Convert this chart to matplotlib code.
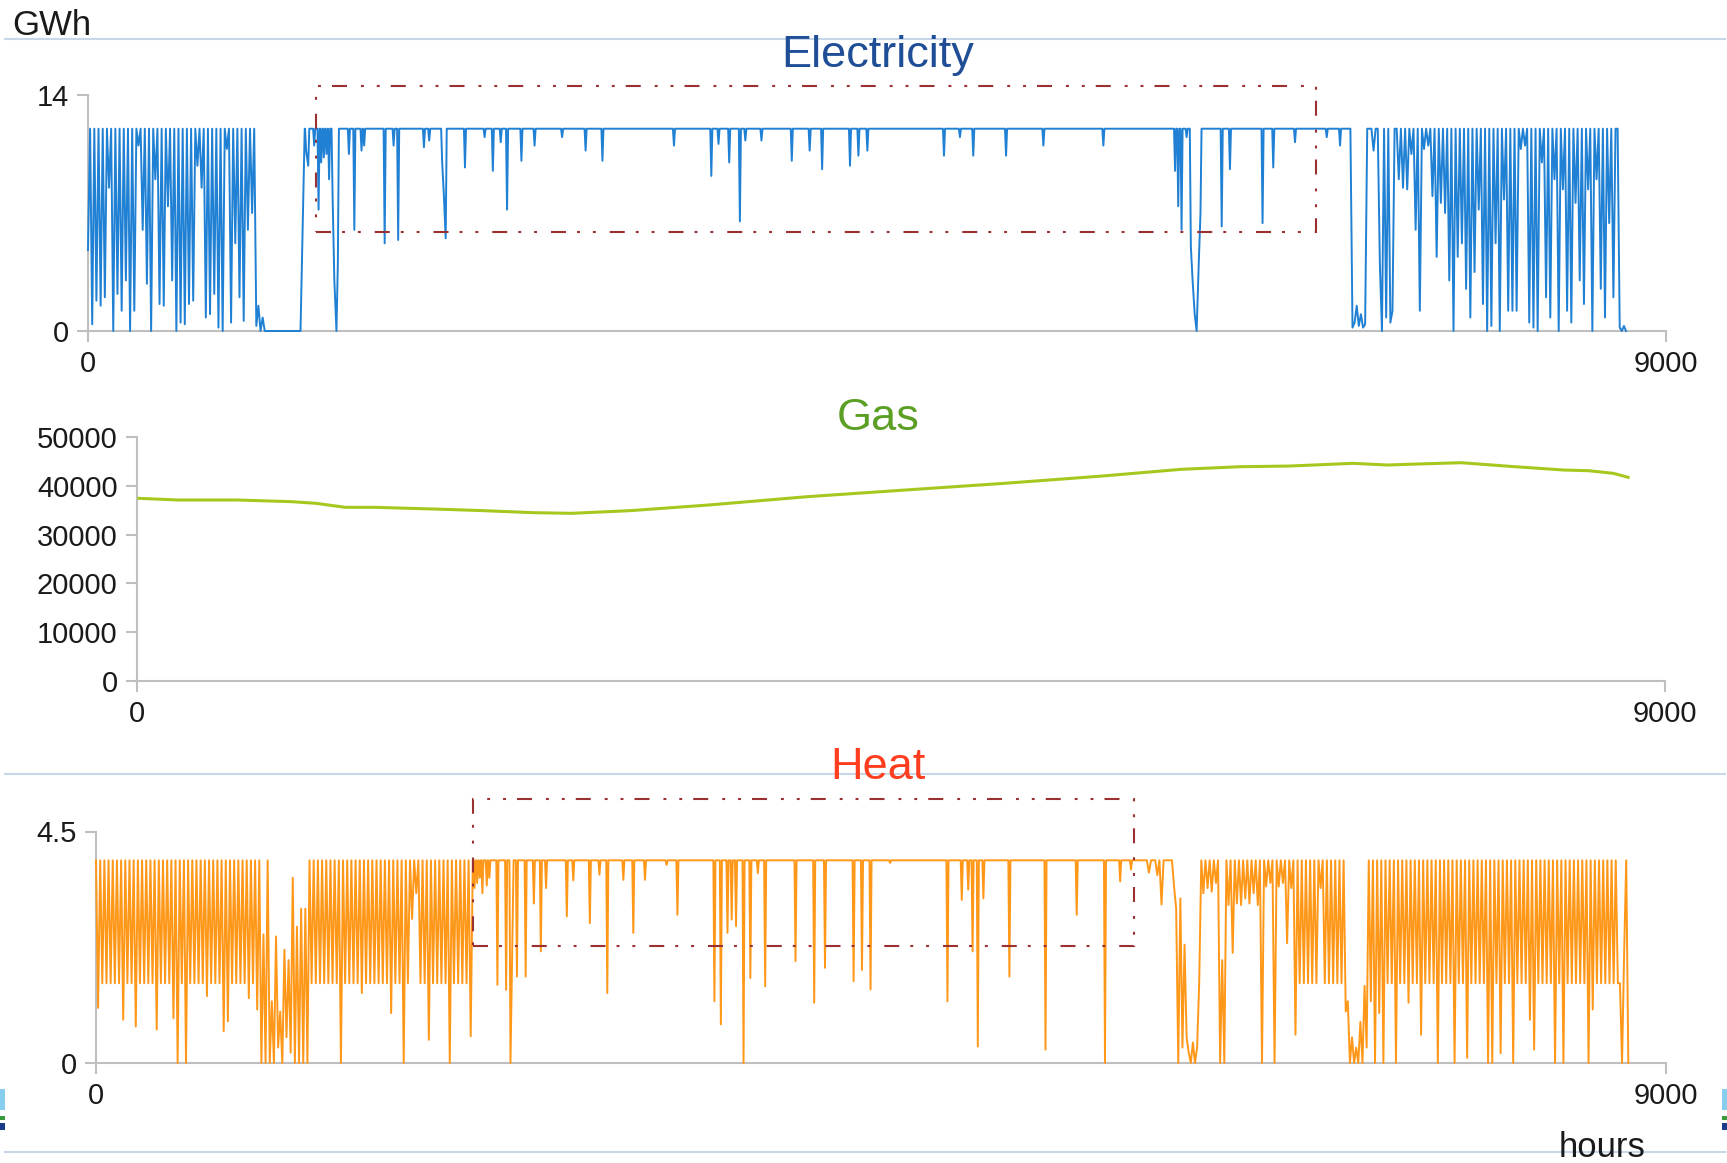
import numpy as np
import matplotlib
matplotlib.use('Agg')
import matplotlib.pyplot as plt
from matplotlib.lines import Line2D
from matplotlib.patches import Rectangle

plt.rcParams['font.family'] = ['Liberation Sans', 'DejaVu Sans']

W, H = 1727, 1163

# ---------------------------------------------------------------- data
E = 12.0             # electricity output at full load, GWh
T, B = 3.94, 1.55    # heat: full load and night-time level, GWh

# electricity, 12-hourly values from hour 0 (January cycling)
elec_start_a = 0
elec_winter_a = [
    4.8, E, 0.4, E, 1.8, E, 1.5, E, 2.0, E, 8.5, E,
    0.0, E, 2.2, E, 1.2, E, 3.0, E, 0.0, E, 1.2, E,
    11.0, E, 6.0, E, 2.8, E, 0.0, E, 9.0, E, 1.6, E,
    1.5, E, 7.4, E, 3.0, E, 0.0, E, 0.5, E, 0.4, E,
    1.6, E, 1.8, E, 9.8, E, 8.5, E, 0.8, E, 1.0, E,
    2.2, E, 0.2, E, 0.0, E, 10.8, E, 0.5, E, 5.2, E,
    2.0, E, 0.6, E, 6.0, E, 7.0, E, 0.3, 1.5, 0.0, 0.8,
    0.0, 0.0, 0.0, 0.0, 0.0, 0.0, 0.0, 0.0, 0.0, 0.0, 0.0, 0.0,
    0.0, 0.0, 0.0, 0.0, 0.0, 0.0, 6.0, E,
]

# electricity, 12-hourly values from hour 7200 (November-December cycling)
elec_start_b = 7200
elec_winter_b = [
    E, 0.2, 0.5, 1.5, 0.3, 1.0, 0.2, 0.4, E, E, E, 10.7,
    E, E, 4.0, 0.0, E, 0.8, E, 0.5, 1.2, E, E, 9.0,
    E, 8.5, E, 8.4, E, 10.5, E, 6.0, E, 1.2, E, 10.8,
    E, 11.0, E, 8.0, E, 4.4, E, 7.6, E, 7.0, E, 3.0,
    E, 0.0, E, 4.4, E, 5.2, E, 2.5, E, 0.8, E, 3.5,
    E, 7.2, E, 1.6, E, 0.0, E, 0.3, E, 5.2, E, 0.0,
    E, 7.8, E, 1.2, E, 1.2, E, 1.2, E, 10.8, E, 11.0,
    E, 0.5, E, 0.2, E, 0.0, E, 10.0, E, 2.0, E, 0.8,
    E, 9.0, E, 0.0, E, 8.4, E, 1.2, E, 0.5, E, 7.6,
    E, 3.0, E, 1.6, E, 8.4, E, 0.0, E, 9.0, E, 2.5,
    E, 0.8, E, 6.4, E, 2.0, E, E, 0.2, 0.0, 0.3, 0.0,
]

# electricity dips during the full-load season: (hour, GWh)
elec_dips = [
    (1244, 10.7), (1256, 9.8), (1290, 11.0), (1315, 7.2), (1330, 10.0),
    (1345, 10.3), (1360, 10.5), (1375, 9.0),
    (1395, 8.0), (1405, 3.0), (1417, 0.0), (1425, 4.0),
    (1488, 10.5), (1519, 6.0), (1560, 10.7), (1575, 11.0),
    (1692, 5.2), (1743, 11.0), (1769, 5.4), (1916, 10.9), (1946, 11.3),
    (2020, 10.0), (2030, 8.0), (2040, 5.5),
    (2150, 9.7), (2262, 11.5), (2309, 9.5), (2354, 11.2), (2390, 7.2),
    (2472, 10.1), (2547, 11.0), (2704, 11.5), (2838, 10.7), (2934, 10.1),
    (3342, 11.0), (3555, 9.2), (3596, 11.1), (3657, 10.0), (3718, 6.5),
    (3749, 11.3), (3841, 11.3), (4014, 10.1), (4116, 10.7), (4187, 9.6),
    (4346, 9.8), (4394, 10.4), (4445, 10.7), (4882, 10.4), (4973, 11.5),
    (5049, 10.4), (5236, 10.4), (5449, 11.0), (5791, 11.0),
    (6200, 9.5), (6218, 7.4), (6237, 6.0), (6266, 11.5),
    (6290, 5.0), (6300, 3.0), (6312, 1.0), (6323, 0.0), (6335, 4.0), (6345, 7.0),
    (6466, 6.2), (6513, 9.6), (6699, 6.4), (6760, 9.7), (6884, 11.2),
    (7065, 11.5), (7141, 11.0),
]

# gas, GWh
gas_hours = [11, 243, 590, 909, 1054, 1227, 1401, 1806, 2038, 2328,
             2559, 2906, 3369, 3948, 4528, 5106, 5685, 6148, 6496, 6786,
             7162, 7365, 7538, 7799, 8117, 8406, 8551, 8697, 8783]
gas_values = [37430, 37090, 37090, 36750, 36410, 35590, 35590, 35180, 34910, 34500,
              34360, 34910, 36070, 37770, 39140, 40500, 42000, 43370, 43910, 44050,
              44600, 44260, 44460, 44730, 43910, 43230, 43090, 42550, 41730]

# heat, 12-hourly values from hour 0 (day peak, night trough)
heat_start_a = 0
heat_winter_a = [
    T, 1.07, T, B, T, B, T, B, T, B, T, B,
    T, 0.84, T, B, T, B, T, 0.71, T, B, T, B,
    T, B, T, B, T, 0.65, T, B, T, B, T, B,
    T, 0.87, T, 0.0, T, B, T, 0.0, T, B, T, B,
    T, B, T, B, T, 1.30, T, B, T, B, T, B,
    T, 0.62, T, 0.81, T, B, T, B, T, B, T, B,
    T, 1.26, T, B, T, 1.04, T, 0.0, 2.5, 0.0, T, 0.0,
    1.2, 0.0, 2.46, 0.3, 1.0, 0.0, 2.2, 0.5, 2.0, 0.2, 3.6, 0.0,
    2.65, 0.0, 3.0, 0.0, 3.0, 0.0, T, B, T, B, T, B,
    T, B, T, B, T, B, T, B, T, 0.0, T, B,
    T, B, T, B, T, B, T, 1.36, T, B, T, B,
    T, B, T, B, T, B, T, B, T, 0.97, T, B,
    T, B, T, 0.0, T, B, T, 2.8, T, 3.3, T, B,
    T, B, T, 0.45, T, B, T, B, T, B, T, B,
    T, 0.0, T, B, T, B, T, B, T, B, T, 0.52,
    T,
]

# heat, 12-hourly values from hour 5952
heat_start_b = 5952
heat_winter_b = [
    T, T, T, T, T, T, T, 3.7, T, T, T, 3.65,
    T, 3.08, T, T, T, T, T, 3.43, 3.0, 0.0, 3.2, 0.3,
    2.3, 0.5, 0.2, 0.0, 0.4, 0.0, 0.3, B, T, 3.3, T, 3.4,
    T, 3.33, T, 3.5, T, 0.0, 2.0, 0.0, T, 3.07, T, 2.14,
    T, 3.1, T, 3.07, T, 3.2, T, 3.1, T, 3.3, T, 3.07,
    T, 0.0, T, 3.43, T, 3.5, T, 0.0, T, 3.43, T, 3.5,
    T, 2.33, T, 3.4, T, 0.55, T, B, T, B, T, B,
    T, B, T, B, T, 3.4, T, B, T, B, T, B,
    T, B, T, B, T, 1.0, 1.2, 0.0, 0.5, 0.0, 0.3, 0.0,
    0.8, 0.0, 1.5, 0.3, T, 1.2, T, 0.0, T, 0.97, T, 0.0,
    T, B, T, B, T, 0.0, T, B, T, B, T, 1.17,
    T, B, T, B, T, 0.55, T, B, T, B, T, B,
    T, 0.0, T, B, T, B, T, B, T, 0.0, T, B,
    T, B, T, 0.1, T, B, T, B, T, B, T, B,
    T, 0.0, T, 0.0, T, B, T, 0.19, T, B, T, B,
    T, 0.0, T, B, T, B, T, B, T, 0.84, T, 0.26,
    T, B, T, B, T, B, T, B, T, 0.0, T, B,
    T, 0.0, T, B, T, B, T, B, T, B, T, B,
    T, 0.0, T, 1.04, T, B, T, B, T, B, T, B,
    T, B, T, B, B, 0.0, 2.14, T, 0.0,
]

# heat dips during the full-load season: (hour, GWh)
heat_dips = [
    (2170, 3.4), (2185, 3.5), (2200, 3.6), (2215, 3.3), (2240, 3.45), (2255, 3.6),
    (2301, 1.52), (2351, 1.42), (2376, 0.0), (2388, 2.6), (2413, 1.68), (2463, 1.68),
    (2510, 3.1), (2550, 2.17), (2580, 3.4), (2699, 2.85), (2736, 3.55), (2831, 2.72),
    (2886, 3.66), (2931, 1.36), (3023, 3.56), (3080, 2.53), (3147, 3.56), (3271, 3.85),
    (3333, 2.88), (3545, 1.2), (3582, 0.75), (3620, 2.53), (3644, 2.79), (3669, 2.66),
    (3712, 0.0), (3751, 1.65), (3794, 3.69), (3836, 1.49), (4010, 1.98), (4117, 1.17),
    (4179, 1.85), (4343, 1.59), (4391, 1.81), (4440, 1.43), (4552, 3.89), (4881, 1.2),
    (4963, 3.17), (5000, 3.37), (5025, 2.17), (5055, 0.32), (5087, 3.2), (5236, 1.68),
    (5443, 0.26), (5622, 2.88), (5784, 0.0), (5871, 3.53), (5933, 3.76),
]

# highlighted full-load periods (hour from, hour to, GWh low, GWh high)
elec_box = (1300, 7004, 5.87, 14.53)
heat_box = (2160, 5951, 2.28, 5.14)


# ---------------------------------------------------------------- helpers
def twelve_hourly(start, values):
    return start + 12 * np.arange(len(values)), np.asarray(values, dtype=float)


def plateau(start, end, top, dips, half=6):
    """Flat run at `top` with narrow dips; dips closer than 2*half are joined."""
    hrs, vals = [start], [top]
    for i, (h, v) in enumerate(dips):
        if i == 0 or h - dips[i - 1][0] > 2 * half:
            hrs.append(h - half)
            vals.append(top)
        hrs.append(h)
        vals.append(v)
        if i == len(dips) - 1 or dips[i + 1][0] - h > 2 * half:
            hrs.append(h + half)
            vals.append(top)
    hrs.append(end)
    vals.append(top)
    return np.array(hrs, dtype=float), np.array(vals, dtype=float)


def join(*parts):
    return (np.concatenate([p[0] for p in parts]),
            np.concatenate([p[1] for p in parts]))


def style_axes(ax, ymax, yticks, ylabels):
    ax.set_xlim(0, 9000)
    ax.set_ylim(0, ymax)
    for s in ('top', 'right'):
        ax.spines[s].set_visible(False)
    for s in ('left', 'bottom'):
        ax.spines[s].set_color('#bfbfbf')
        ax.spines[s].set_linewidth(1.5)
    ax.set_xticks([0, 9000])
    ax.set_xticklabels(['0', '9000'])
    ax.set_yticks(yticks)
    ax.set_yticklabels(ylabels)
    ax.tick_params(length=8, width=1.5, color='#bfbfbf', labelsize=21,
                   labelcolor='#1a1a1a')
    ax.tick_params(axis='x', pad=6)
    ax.tick_params(axis='y', pad=6)
    ax.patch.set_alpha(0)


def box(ax, spec):
    x0, x1, y0, y1 = spec
    ax.add_patch(Rectangle((x0, y0), x1 - x0, y1 - y0, fill=False,
                           ec='#9b3030', lw=1.5, clip_on=False, zorder=4,
                           linestyle=(0, (7.2, 5.3, 1.4, 6.2, 1.4, 6.7))))


# ---------------------------------------------------------------- figure
fig = plt.figure(figsize=(W / 100, H / 100), dpi=100)

ax_e = fig.add_axes([88 / W, 1 - 331 / H, 1578 / W, 236 / H])
ax_g = fig.add_axes([137 / W, 1 - 681 / H, 1528 / W, 244 / H])
ax_h = fig.add_axes([96 / W, 1 - 1063 / H, 1570 / W, 231.5 / H])

# electricity
eh, ev = join(twelve_hourly(elec_start_a, elec_winter_a),
              plateau(1236, elec_start_b, E, elec_dips),
              twelve_hourly(elec_start_b, elec_winter_b))
ax_e.plot(eh, ev, color='#1f80d4', lw=1.4, clip_on=False, zorder=3)
style_axes(ax_e, 14, [0, 14], ['0', '14'])
box(ax_e, elec_box)

# gas
ax_g.plot(gas_hours, gas_values, color='#a6c81e', lw=2.2, zorder=3,
          solid_joinstyle='round')
style_axes(ax_g, 50000, [0, 10000, 20000, 30000, 40000, 50000],
           ['0', '10000', '20000', '30000', '40000', '50000'])

# heat
hh, hv = join(twelve_hourly(heat_start_a, heat_winter_a),
              plateau(2160, heat_start_b, T, heat_dips),
              twelve_hourly(heat_start_b, heat_winter_b))
ax_h.plot(hh, hv, color='#ff9718', lw=1.4, clip_on=False, zorder=3)
style_axes(ax_h, 4.5, [0, 4.5], ['0', '4.5'])
box(ax_h, heat_box)

# panel titles
fig.text(878 / W, 1 - 67 / H, 'Electricity', ha='center', va='baseline',
         fontsize=32.5, color='#1f4e96')
fig.text(878 / W, 1 - 430 / H, 'Gas', ha='center', va='baseline',
         fontsize=32.5, color='#5b9f24')
fig.text(878 / W, 1 - 779 / H, 'Heat', ha='center', va='baseline',
         fontsize=32.5, color='#ff3d1f')

# unit labels
fig.text(12 / W, 1 - 35 / H, 'GWh', ha='left', va='baseline',
         fontsize=25, color='#1a1a1a')
fig.text(1559 / W, 1 - 1157 / H, 'hours', ha='left', va='baseline',
         fontsize=25, color='#1a1a1a', zorder=5)

# separator rules
for y in (39, 774, 1152):
    fig.add_artist(Line2D([5 / W, 1725 / W], [1 - y / H, 1 - y / H],
                          transform=fig.transFigure, color='#c8d6ea', lw=1.5,
                          zorder=0))

# slide edge markers
for x in (0, 1722):
    for y0, y1, c in ((1089, 1110, '#87cdee'), (1116, 1120, '#3a9a3a'),
                      (1123, 1130, '#1a3a8a')):
        fig.add_artist(Rectangle((x / W, 1 - y1 / H), 5 / W, (y1 - y0) / H,
                                 transform=fig.transFigure, color=c, lw=0))

fig.savefig('out.png', dpi=100)
